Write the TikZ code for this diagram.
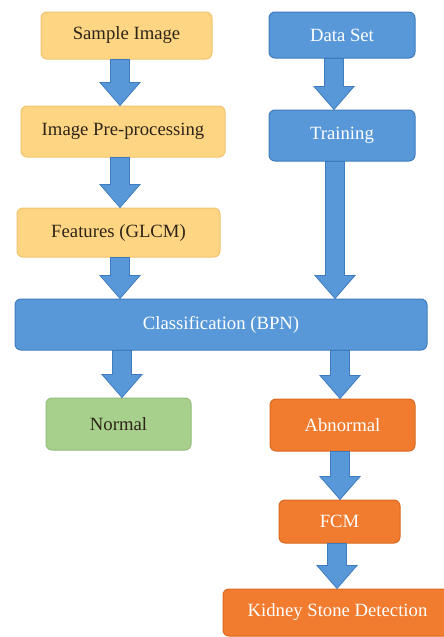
\documentclass[tikz,border=0pt]{standalone}
\usepackage{fontspec}
\setmainfont{Liberation Serif}
\usetikzlibrary{calc}

\definecolor{pale}{HTML}{FDD583}
\definecolor{paleedge}{HTML}{F2C470}
\definecolor{bluefill}{HTML}{5898D8}
\definecolor{blueedge}{HTML}{3F7CBF}
\definecolor{greenfill}{HTML}{A8D08D}
\definecolor{greenedge}{HTML}{92BC78}
\definecolor{orangefill}{HTML}{F17B2E}
\definecolor{orangeedge}{HTML}{D9691F}
\definecolor{darktext}{HTML}{2E2418}

\tikzset{
  x=1pt, y=-1pt,
  box/.style={rounded corners=6pt, line width=1pt, inner sep=0pt,
    font=\fontsize{18.7}{22}\selectfont, align=center},
  palebox/.style={box, fill=pale, draw=paleedge, text=darktext},
  bluebox/.style={box, fill=bluefill, draw=blueedge, text=white},
  greenbox/.style={box, fill=greenfill, draw=greenedge, text=darktext},
  orangebox/.style={box, fill=orangefill, draw=orangeedge, text=white},
  barrow/.style={fill=bluefill, draw=blueedge, line width=0.8pt, line join=miter},
}

% block arrow from point \p1 down to point \p2
\newcommand\arrowbody{%
    (\x1-9.5pt,\y1) -- (\x1+9.5pt,\y1) -- (\x1+9.5pt,\y2+23pt)
    -- (\x1+20pt,\y2+23pt) -- (\x1,\y2) -- (\x1-20pt,\y2+23pt)
    -- (\x1-9.5pt,\y2+23pt) -- cycle}

% block arrow: #1 = horizontal offset from the source's south anchor,
% #2 = source node, #3 = target node
\newcommand\blockarrow[3]{%
  \path[barrow] let \p1=($(#2.south)+(#1,0)$), \p2=(#3.north) in \arrowbody;}

\begin{document}
\begin{tikzpicture}
\useasboundingbox[fill=white] (0,0) rectangle (444,637);

% left column
\node[palebox, minimum width=171pt, minimum height=47pt] (sample) at (126.5,35.5) {Sample Image};
\node[palebox, minimum width=204pt, minimum height=51pt] (prep) at (123,131.5) {Image Pre-processing};
\node[palebox, minimum width=203pt, minimum height=49pt] (feat) at (118.5,232.5) {Features (GLCM)};

% right column
\node[bluebox, minimum width=146pt, minimum height=46pt] (data) at (342,35) {Data Set};
\node[bluebox, minimum width=146pt, minimum height=51pt] (train) at (342,135.5) {Training};

% classifier
\node[bluebox, minimum width=412pt, minimum height=51pt] (cls) at (221,324.5) {Classification (BPN)};

% outcomes
\node[greenbox, minimum width=145pt, minimum height=52pt] (normal) at (118.5,424) {Normal};
\node[orangebox, minimum width=145pt, minimum height=52pt] (abnormal) at (342.5,425) {Abnormal};
\node[orangebox, minimum width=121pt, minimum height=43pt] (fcm) at (339.5,521.5) {FCM};
\node[orangebox, minimum width=229pt, minimum height=47pt] (kidney) at (337.5,612.5) {Kidney Stone Detection};

% connectors
\blockarrow{-6.5}{sample}{prep}
\blockarrow{-3}{prep}{feat}
\blockarrow{1.5}{feat}{cls}
\blockarrow{-8}{data}{train}
\blockarrow{-7}{train}{cls}
\path let \p1=(cls.south), \p2=(normal.south) in coordinate (clsL) at (\x2+3.5pt,\y1);
\path let \p1=(cls.south), \p2=(abnormal.south) in coordinate (clsR) at (\x2-2.5pt,\y1);
\path[barrow] let \p1=(clsL), \p2=(normal.north) in \arrowbody;
\path[barrow] let \p1=(clsR), \p2=(abnormal.north) in \arrowbody;
\blockarrow{-2.5}{abnormal}{fcm}
\blockarrow{-2.5}{fcm}{kidney}
\end{tikzpicture}
\end{document}
